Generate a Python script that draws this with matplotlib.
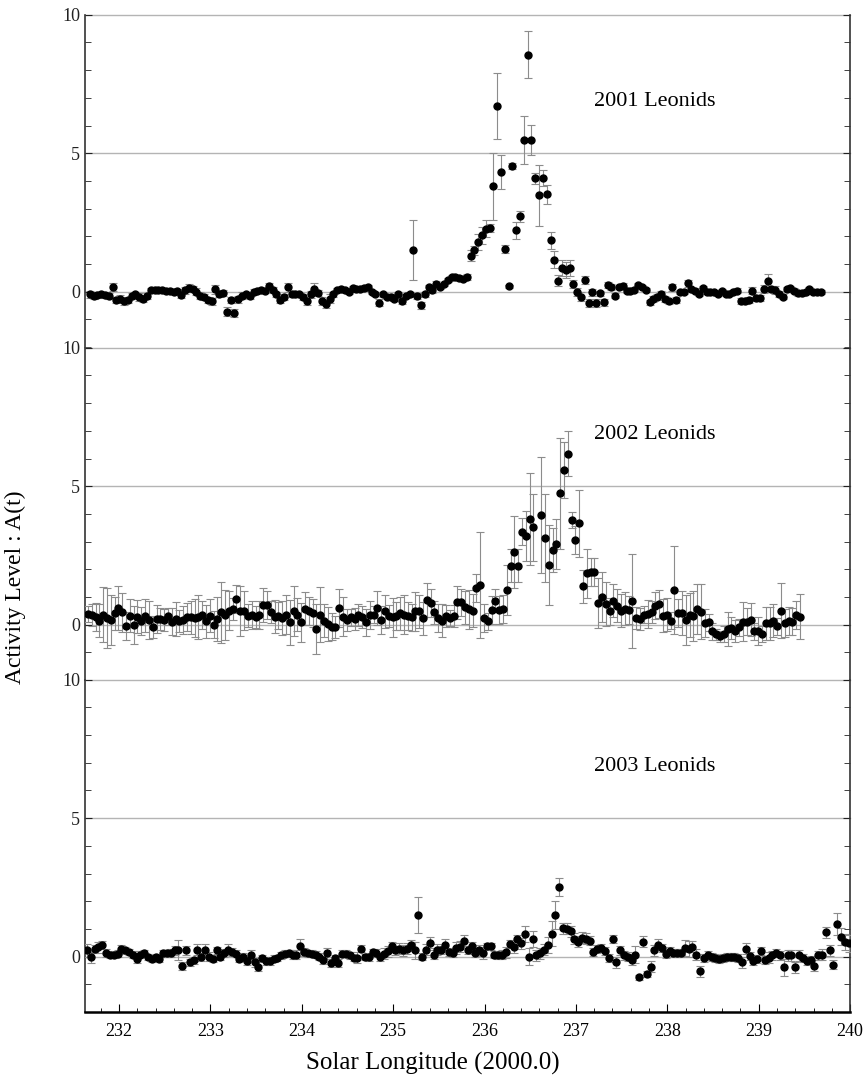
import numpy as np
import matplotlib
matplotlib.use("Agg")
import matplotlib.pyplot as plt
from matplotlib.ticker import MultipleLocator

plt.rcParams['font.family'] = ['Liberation Serif', 'DejaVu Serif']

# hourly bins of solar longitude (deg), one list of activity values per year
step = 0.04167
start_2001 = 231.68
start_2002 = 231.66
start_2003 = 231.65

act_2001 = [
    -0.10, -0.15, -0.12, -0.10, -0.12, -0.15, 0.16, -0.30, -0.25, -0.35,
    -0.30, -0.15, -0.10, -0.20, -0.25, -0.15, 0.05, 0.07, 0.05, 0.05,
    0.03, 0.02, 0.00, 0.02, -0.12, 0.05, 0.12, 0.10, 0.00, -0.15,
    -0.20, -0.30, -0.35, 0.08, -0.08, -0.05, -0.72, -0.30, -0.78, -0.28,
    -0.15, -0.10, -0.15, 0.00, 0.03, 0.05, 0.02, 0.20, 0.05, -0.10,
    -0.30, -0.20, 0.15, -0.10, -0.08, -0.10, -0.20, -0.35, -0.10, 0.10,
    -0.05, -0.35, -0.45, -0.25, -0.10, 0.05, 0.10, 0.05, 0.00, 0.13,
    0.08, 0.10, 0.12, 0.15, -0.02, -0.08, -0.40, -0.10, -0.18, -0.20,
    -0.27, -0.10, -0.33, -0.15, -0.10, 1.49, -0.15, -0.50, -0.10, 0.15,
    0.06, 0.28, 0.18, 0.28, 0.42, 0.52, 0.52, 0.50, 0.46, 0.52,
    1.30, 1.49, 1.79, 2.03, 2.27, 2.30, 3.80, 6.70, 4.32, 1.53,
    0.19, 4.53, 2.21, 2.73, 5.47, 8.56, 5.47, 4.10, 3.48, 4.10,
    3.51, 1.85, 1.15, 0.40, 0.85, 0.78, 0.86, 0.28, -0.02, -0.18,
    0.42, -0.40, -0.02, -0.40, -0.06, -0.39, 0.24, 0.16, -0.14, 0.16,
    0.22, 0.04, 0.04, 0.06, 0.24, 0.16, 0.06, -0.39, -0.27, -0.20,
    -0.08, -0.27, -0.35, 0.16, -0.30, -0.02, -0.02, 0.30, 0.10, 0.04,
    -0.08, 0.13, -0.02, -0.02, -0.02, -0.08, 0.01, -0.08, -0.08, -0.02,
    0.04, -0.33, -0.35, -0.30, 0.04, -0.23, -0.23, 0.10, 0.40, 0.10,
    0.06, -0.08, -0.18, 0.10, 0.13, 0.04, -0.06, -0.06, -0.02, 0.10,
    -0.02, -0.02, -0.02,
]
err_2001 = [
    0.12, 0.1, 0.1, 0.1, 0.12, 0.1, 0.15, 0.12, 0.12, 0.12,
    0.12, 0.1, 0.1, 0.15, 0.12, 0.1, 0.08, 0.08, 0.08, 0.08,
    0.08, 0.08, 0.08, 0.08, 0.1, 0.12, 0.15, 0.12, 0.12, 0.12,
    0.1, 0.12, 0.12, 0.15, 0.1, 0.1, 0.15, 0.12, 0.15, 0.12,
    0.12, 0.1, 0.1, 0.08, 0.08, 0.08, 0.08, 0.12, 0.1, 0.1,
    0.12, 0.12, 0.15, 0.1, 0.1, 0.1, 0.12, 0.12, 0.12, 0.2,
    0.12, 0.15, 0.15, 0.15, 0.1, 0.08, 0.08, 0.08, 0.08, 0.08,
    0.08, 0.08, 0.08, 0.08, 0.08, 0.08, 0.12, 0.08, 0.08, 0.1,
    0.08, 0.1, 0.1, 0.08, 0.1, 1.08, 0.1, 0.12, 0.1, 0.1,
    0.1, 0.1, 0.08, 0.08, 0.08, 0.08, 0.08, 0.08, 0.08, 0.1,
    0.2, 0.15, 0.3, 0.3, 0.3, 0.15, 1.2, 1.18, 0.6, 0.15,
    0.05, 0.1, 0.3, 0.2, 0.87, 0.85, 0.55, 0.2, 1.1, 0.3,
    0.35, 0.3, 0.3, 0.2, 0.3, 0.3, 0.3, 0.15, 0.15, 0.15,
    0.15, 0.15, 0.12, 0.15, 0.1, 0.12, 0.1, 0.1, 0.1, 0.08,
    0.08, 0.08, 0.08, 0.08, 0.08, 0.08, 0.08, 0.1, 0.1, 0.1,
    0.1, 0.1, 0.1, 0.12, 0.12, 0.08, 0.08, 0.12, 0.08, 0.08,
    0.08, 0.08, 0.08, 0.08, 0.08, 0.08, 0.08, 0.08, 0.08, 0.08,
    0.08, 0.1, 0.1, 0.1, 0.12, 0.1, 0.1, 0.15, 0.25, 0.12,
    0.15, 0.1, 0.1, 0.08, 0.08, 0.08, 0.08, 0.08, 0.08, 0.08,
    0.08, 0.08, 0.08,
]

act_2002 = [
    0.39, 0.36, 0.27, 0.14, 0.36, 0.24, 0.17, 0.41, 0.60, 0.45,
    -0.04, 0.33, -0.01, 0.29, 0.14, 0.33, 0.17, -0.07, 0.20, 0.20,
    0.17, 0.30, 0.11, 0.20, 0.14, 0.17, 0.27, 0.27, 0.24, 0.27,
    0.36, 0.12, 0.33, 0.00, 0.20, 0.45, 0.36, 0.50, 0.57, 0.93,
    0.48, 0.50, 0.33, 0.35, 0.27, 0.36, 0.71, 0.71, 0.45, 0.29,
    0.33, 0.24, 0.36, 0.08, 0.48, 0.36, 0.08, 0.57, 0.50, 0.41,
    -0.16, 0.36, 0.14, 0.02, -0.07, -0.07, 0.60, 0.29, 0.17, 0.26,
    0.20, 0.35, 0.29, 0.08, 0.36, 0.36, 0.60, 0.17, 0.48, 0.32,
    0.26, 0.32, 0.41, 0.36, 0.32, 0.26, 0.48, 0.48, 0.23, 0.89,
    0.78, 0.44, 0.24, 0.14, 0.32, 0.24, 0.32, 0.80, 0.80, 0.62,
    0.56, 0.50, 1.32, 1.43, 0.24, 0.12, 0.53, 0.87, 0.53, 0.56,
    1.25, 2.13, 2.63, 2.13, 3.36, 3.20, 3.81, 3.51, np.nan, 3.96,
    3.13, 2.15, 2.70, 2.91, 4.74, 5.58, 6.18, 3.78, 3.06, 3.66,
    1.38, 1.85, 1.89, 1.91, 0.77, 0.99, 0.75, 0.48, 0.87, 0.69,
    0.51, 0.57, 0.54, 0.84, 0.23, 0.20, 0.36, 0.39, 0.47, 0.69,
    0.75, 0.32, 0.36, 0.14, 1.25, 0.41, 0.41, 0.18, 0.36, 0.32,
    0.57, 0.47, 0.05, 0.08, -0.24, -0.34, -0.42, -0.34, -0.16, -0.13,
    -0.22, -0.10, 0.11, 0.11, 0.18, -0.24, -0.24, -0.34, 0.05, 0.05,
    0.14, -0.06, 0.51, 0.05, 0.14, 0.11, 0.36, 0.29,
]
err_2002 = [
    0.3, 0.4, 0.5, 0.6, 1.0, 1.1, 0.9, 0.6, 0.8, 0.7,
    0.5, 0.6, 0.7, 0.6, 0.5, 0.6, 0.7, 0.4, 0.5, 0.4,
    0.4, 0.3, 0.5, 0.6, 0.4, 0.5, 0.5, 0.6, 0.7, 0.8,
    0.5, 0.6, 0.6, 0.5, 0.8, 1.1, 0.9, 0.7, 0.4, 0.5,
    0.9, 0.7, 0.4, 0.5, 0.4, 0.5, 0.6, 0.5, 0.4, 0.6,
    0.5, 0.6, 0.7, 0.8, 0.9, 0.6, 0.7, 0.6, 0.5, 0.5,
    0.9, 1.0, 0.6, 0.6, 0.5, 0.4, 0.7, 0.7, 0.4, 0.3,
    0.4, 0.4, 0.4, 0.5, 0.5, 0.3, 0.6, 0.5, 0.6, 0.4,
    0.7, 0.5, 0.6, 0.7, 0.5, 0.5, 0.7, 0.6, 0.6, 0.6,
    0.5, 0.4, 0.5, 0.6, 0.4, 0.3, 0.4, 0.6, 0.5, 0.6,
    0.7, 0.6, 0.5, 1.9, 0.5, 0.3, 0.5, 0.4, 0.5, 0.5,
    0.9, 0.6, 1.3, 0.6, 0.5, 0.9, 1.65, 1.2, 0.0, 2.1,
    1.6, 1.45, 0.8, 0.9, 2.0, 1.0, 0.8, 0.3, 0.5, 1.2,
    0.6, 0.9, 0.5, 0.5, 0.9, 0.9, 0.8, 0.5, 0.6, 0.6,
    0.6, 0.6, 0.5, 1.7, 0.4, 0.4, 0.3, 0.5, 0.4, 0.5,
    0.5, 0.6, 0.6, 0.3, 1.6, 0.5, 0.8, 0.9, 0.8, 0.9,
    0.9, 1.0, 0.5, 0.3, 0.3, 0.2, 0.2, 0.3, 0.6, 0.4,
    0.4, 0.3, 0.7, 0.5, 0.6, 0.3, 0.5, 0.3, 0.6, 0.6,
    0.6, 0.3, 1.0, 0.5, 0.5, 0.5, 0.5, 0.8,
]

act_2003 = [
    0.22, -0.02, 0.28, 0.34, 0.42, 0.12, 0.06, 0.07, 0.10, 0.28,
    0.22, 0.16, 0.07, -0.08, 0.07, 0.12, -0.02, -0.08, -0.02, -0.08,
    0.12, 0.12, 0.12, 0.22, 0.24, -0.33, 0.22, -0.21, -0.14, 0.25,
    -0.02, 0.25, 0.00, -0.08, 0.22, 0.00, 0.12, 0.24, 0.16, 0.10,
    -0.08, -0.02, -0.17, 0.07, -0.21, -0.36, -0.05, -0.17, -0.17, -0.08,
    -0.05, 0.04, 0.10, 0.12, 0.07, 0.07, 0.37, 0.16, 0.12, 0.10,
    0.07, 0.00, -0.12, 0.12, -0.24, -0.05, -0.24, 0.10, 0.10, 0.04,
    -0.05, -0.04, 0.28, -0.02, -0.02, 0.16, 0.12, -0.02, 0.10, 0.19,
    0.37, 0.22, 0.28, 0.22, 0.28, 0.40, 0.22, 1.51, 0.00, 0.25,
    0.50, 0.07, 0.24, 0.24, 0.43, 0.16, 0.12, 0.31, 0.36, 0.58,
    0.24, 0.37, 0.13, 0.22, 0.13, 0.37, 0.37, 0.07, 0.06, 0.07,
    0.16, 0.46, 0.34, 0.62, 0.48, 0.82, 0.00, 0.64, 0.04, 0.12,
    0.24, 0.42, 0.82, 1.49, 2.51, 1.03, 1.00, 0.91, 0.64, 0.54,
    0.68, 0.64, 0.58, 0.16, 0.28, 0.31, 0.19, -0.05, 0.64, -0.21,
    0.22, 0.04, 0.00, -0.11, 0.07, -0.75, 0.54, -0.63, -0.36, 0.22,
    0.43, 0.31, 0.10, 0.19, 0.12, 0.12, 0.12, 0.31, 0.28, 0.36,
    0.06, -0.53, -0.05, 0.04, -0.02, -0.05, -0.08, -0.05, -0.02, -0.02,
    -0.02, -0.05, -0.21, 0.28, 0.01, -0.17, -0.08, 0.19, -0.12, -0.05,
    0.04, 0.12, 0.04, -0.39, 0.04, 0.04, -0.39, 0.04, -0.05, -0.17,
    -0.12, -0.33, 0.04, 0.07, 0.88, 0.22, -0.29, 1.18, 0.72, 0.52,
    0.48,
]
err_2003 = [
    0.25, 0.2, 0.15, 0.2, 0.15, 0.15, 0.12, 0.12, 0.12, 0.15,
    0.12, 0.12, 0.12, 0.15, 0.12, 0.12, 0.1, 0.12, 0.12, 0.1,
    0.12, 0.12, 0.15, 0.15, 0.35, 0.15, 0.15, 0.12, 0.12, 0.2,
    0.15, 0.2, 0.15, 0.12, 0.12, 0.12, 0.15, 0.2, 0.15, 0.12,
    0.12, 0.15, 0.15, 0.15, 0.15, 0.15, 0.12, 0.15, 0.12, 0.12,
    0.12, 0.12, 0.12, 0.12, 0.15, 0.15, 0.25, 0.15, 0.12, 0.12,
    0.12, 0.12, 0.15, 0.2, 0.15, 0.12, 0.15, 0.12, 0.12, 0.12,
    0.12, 0.2, 0.12, 0.12, 0.15, 0.12, 0.15, 0.15, 0.2, 0.2,
    0.15, 0.15, 0.2, 0.2, 0.2, 0.2, 0.3, 0.65, 0.12, 0.2,
    0.2, 0.15, 0.2, 0.15, 0.2, 0.15, 0.15, 0.2, 0.2, 0.2,
    0.15, 0.15, 0.15, 0.2, 0.2, 0.12, 0.12, 0.12, 0.15, 0.15,
    0.2, 0.15, 0.2, 0.15, 0.2, 0.3, 0.3, 0.3, 0.2, 0.2,
    0.2, 0.3, 0.45, 0.5, 0.33, 0.2, 0.2, 0.2, 0.2, 0.2,
    0.2, 0.2, 0.15, 0.15, 0.15, 0.15, 0.15, 0.15, 0.15, 0.2,
    0.15, 0.15, 0.15, 0.2, 0.3, 0.1, 0.2, 0.1, 0.2, 0.2,
    0.2, 0.15, 0.15, 0.15, 0.15, 0.15, 0.15, 0.3, 0.3, 0.2,
    0.2, 0.2, 0.15, 0.15, 0.15, 0.15, 0.15, 0.15, 0.15, 0.15,
    0.15, 0.15, 0.2, 0.2, 0.15, 0.15, 0.15, 0.15, 0.15, 0.2,
    0.15, 0.15, 0.15, 0.3, 0.2, 0.2, 0.2, 0.2, 0.15, 0.15,
    0.15, 0.2, 0.15, 0.2, 0.2, 0.2, 0.15, 0.4, 0.3, 0.3,
    0.3,
]

panels = [
    ('2001 Leonids', start_2001, act_2001, err_2001),
    ('2002 Leonids', start_2002, act_2002, err_2002),
    ('2003 Leonids', start_2003, act_2003, err_2003),
]

fig = plt.figure(figsize=(8.66, 10.77), dpi=100)
left, width = 0.0982, 0.8834
bottoms = [0.6778, 0.3686, 0.0604]
height = 0.3085

for k, (name, x0, act, err) in enumerate(panels):
    ax = fig.add_axes([left, bottoms[k], width, height])
    x = x0 + step * np.arange(len(act))
    for g in [0, 5, 10]:
        ax.axhline(g, color='#b4b4b4', lw=1.0, zorder=0, clip_on=False)
    ax.errorbar(x, act, yerr=err, fmt='o', color='black', ms=5,
                ecolor='#8c8c8c', elinewidth=0.8, capsize=3, capthick=0.8,
                zorder=3)
    ax.set_xlim(231.628, 240.0)
    ax.set_ylim(-2, 10)
    ax.set_yticks([0, 5, 10])
    ax.yaxis.set_minor_locator(MultipleLocator(1))
    ax.tick_params(axis='y', which='both', direction='in', left=True,
                   right=True, labelsize=13, colors='#222222')
    ax.tick_params(axis='y', which='major', length=5)
    ax.tick_params(axis='y', which='minor', length=4)
    ax.spines['top'].set_visible(False)
    for s in ['left', 'right']:
        ax.spines[s].set_linewidth(1.2)
        ax.spines[s].set_color('#333333')
    ax.text(237.2, 6.85, name, fontsize=16, va='center', ha='left')
    if k < 2:
        ax.spines['bottom'].set_visible(False)
        ax.tick_params(axis='x', which='both', bottom=False, labelbottom=False)
    else:
        ax.spines['bottom'].set_linewidth(1.8)
        ax.xaxis.set_major_locator(MultipleLocator(1))
        ax.xaxis.set_minor_locator(MultipleLocator(0.2))
        ax.tick_params(axis='x', which='both', direction='in', labelsize=13,
                       pad=8)
        ax.tick_params(axis='x', which='major', length=6)
        ax.tick_params(axis='x', which='minor', length=3)

fig.text(0.018, 0.455, 'Activity Level : A(t)', rotation=90, fontsize=17,
         ha='center', va='center')
fig.text(0.5, 0.013, 'Solar Longitude (2000.0)', fontsize=18,
         ha='center', va='center')

fig.savefig('out.png', dpi=100)
